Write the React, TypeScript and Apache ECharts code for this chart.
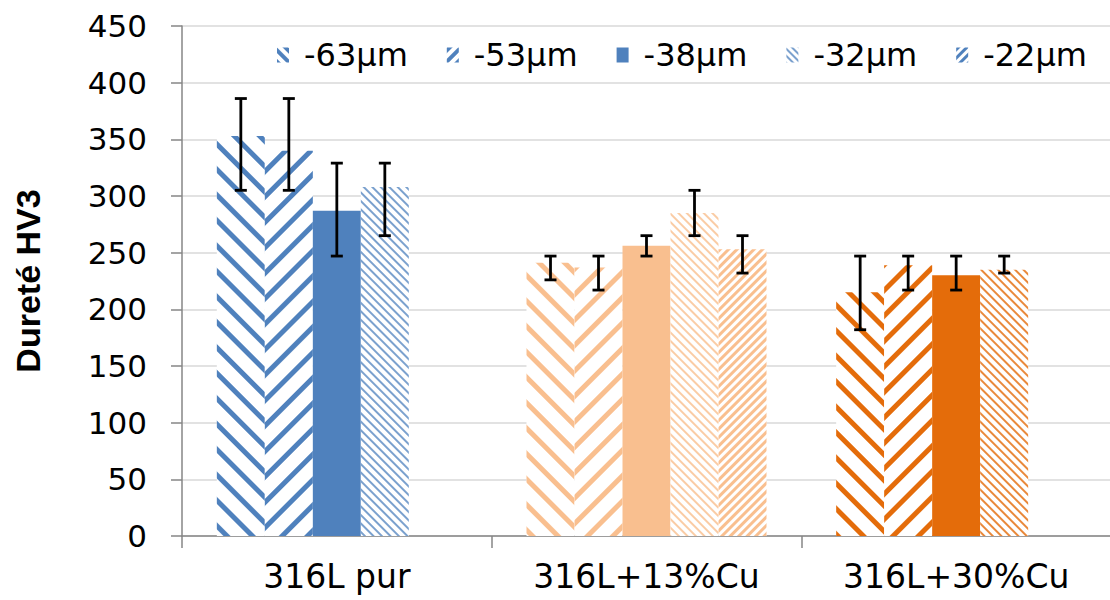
import React, { useEffect, useRef } from "react";
import * as echarts from "echarts";

const CATEGORIES = ["316L pur", "316L+13%Cu", "316L+30%Cu"];
const SERIES_NAMES = ["-63µm", "-53µm", "-38µm", "-32µm", "-22µm"];

const V63 = [353, 241, 215];
const V53 = [340, 237, 239];
const V38 = [287, 256, 230];
const V32 = [308, 285, 235];
const V22 = [null, 253, null];

const E63 = [[305, 386], [226, 247], [182, 247]];
const E53 = [[305, 386], [217, 247], [217, 247]];
const E38 = [[247, 329], [247, 265], [217, 247]];
const E32 = [[265, 329], [265, 305], [232, 247]];
const E22 = [null, [232, 265], null];

const Y_TICKS = [0, 50, 100, 150, 200, 250, 300, 350, 400, 450];

const GROUP_COLORS = ["#4F81BD", "#F9BF8F", "#E46C0A"];
const LIGHT_COLORS = ["rgba(79,129,189,0.75)", "rgba(249,191,143,0.8)", "rgba(228,108,10,0.8)"];

const VALUES = [V63, V53, V38, V32, V22];
const ERRORS = [E63, E53, E38, E32, E22];

const FONT = "'DejaVu Sans', 'Liberation Sans', Arial, sans-serif";
const TITLE_FONT = "'Liberation Sans', Arial, sans-serif";
const BAR_WIDTH = 48;

// pattern per series: null = solid
const PATTERNS: (null | { dash: number[]; rot: number; light?: boolean })[] = [
  { dash: [4.8, 12.2], rot: Math.PI / 4 },
  { dash: [4.8, 12.2], rot: -Math.PI / 4 },
  null,
  { dash: [2, 3.6], rot: Math.PI / 4, light: true },
  { dash: [3, 3], rot: -Math.PI / 4 },
];
// denser version of the patterns for the small legend keys
const LEGEND_PATTERNS: (null | { dash: number[]; rot: number; light?: boolean })[] = [
  { dash: [3.5, 4], rot: Math.PI / 4 },
  { dash: [3.5, 4], rot: -Math.PI / 4 },
  null,
  { dash: [2, 3], rot: Math.PI / 4, light: true },
  { dash: [2.5, 2.5], rot: -Math.PI / 4 },
];

function makeStyle(p: null | { dash: number[]; rot: number; light?: boolean }, gIdx: number) {
  const base = GROUP_COLORS[gIdx];
  if (!p) return { color: base };
  return {
    color: "#ffffff",
    decal: {
      symbol: "rect",
      symbolSize: 1,
      dashArrayX: [1, 0],
      dashArrayY: p.dash,
      rotation: p.rot,
      color: p.light ? LIGHT_COLORS[gIdx] : base,
    },
  };
}

export default function App() {
  const ref = useRef<HTMLDivElement>(null);
  useEffect(() => {
    if (!ref.current) return;
    const chart = echarts.init(ref.current, undefined, { renderer: "svg" });
    const n = SERIES_NAMES.length;

    const barSeries = SERIES_NAMES.map((name, sIdx) => ({
      name,
      type: "bar",
      barWidth: BAR_WIDTH,
      barGap: "0%",
      itemStyle: makeStyle(LEGEND_PATTERNS[sIdx], 0),
      data: VALUES[sIdx].map((v, gIdx) =>
        v == null ? "-" : { value: v, itemStyle: makeStyle(PATTERNS[sIdx], gIdx) }
      ),
    }));

    const errData: number[][] = [];
    ERRORS.forEach((arr, sIdx) => {
      arr.forEach((e, gIdx) => {
        if (e) errData.push([gIdx, sIdx, e[0], e[1]]);
      });
    });

    const errSeries = {
      type: "custom",
      z: 10,
      encode: { x: 0, y: [2, 3] },
      data: errData,
      renderItem: (params: any, api: any) => {
        const cat = api.value(0);
        const sIdx = api.value(1);
        const lo = api.coord([cat, api.value(2)]);
        const hi = api.coord([cat, api.value(3)]);
        const x = lo[0] + (sIdx - (n - 1) / 2) * BAR_WIDTH;
        const cap = 6;
        const st = { stroke: "#000", lineWidth: 2.8 };
        return {
          type: "group",
          children: [
            { type: "line", shape: { x1: x, y1: lo[1], x2: x, y2: hi[1] }, style: st },
            { type: "line", shape: { x1: x - cap, y1: lo[1], x2: x + cap, y2: lo[1] }, style: st },
            { type: "line", shape: { x1: x - cap, y1: hi[1], x2: x + cap, y2: hi[1] }, style: st },
          ],
        };
      },
    };

    chart.setOption({
      animation: false,
      backgroundColor: "#ffffff",
      textStyle: { fontFamily: FONT },
      grid: {
        left: 182,
        right: -1,
        top: 26,
        bottom: 64,
        containLabel: false,
        outerBoundsMode: "none",
      },
      legend: {
        data: SERIES_NAMES,
        left: 272,
        top: 34,
        icon: "rect",
        itemWidth: 12,
        itemHeight: 15,
        itemGap: 39,
        textStyle: { fontSize: 32, color: "#000", fontFamily: FONT, padding: [0, 0, 0, 10] },
      },
      xAxis: {
        type: "category",
        data: CATEGORIES,
        axisLine: { lineStyle: { color: "#868686", width: 1.5 } },
        axisTick: { show: true, length: 12, lineStyle: { color: "#868686", width: 1.5 } },
        axisLabel: { fontSize: 33, color: "#000", margin: 24, fontFamily: FONT },
      },
      yAxis: {
        type: "value",
        min: Y_TICKS[0],
        max: Y_TICKS[Y_TICKS.length - 1],
        interval: 50,
        name: "Dureté HV3",
        nameLocation: "middle",
        nameRotate: 90,
        nameGap: 137,
        nameTextStyle: { fontSize: 34, fontWeight: "bold", color: "#000", fontFamily: TITLE_FONT },
        axisLine: { show: true, lineStyle: { color: "#868686", width: 1.5 } },
        axisTick: { show: true, length: 11, lineStyle: { color: "#868686", width: 1.5 } },
        axisLabel: { fontSize: 31, color: "#000", margin: 35, fontFamily: FONT },
        splitLine: { lineStyle: { color: "#D9D9D9", width: 1.5 } },
      },
      series: [...barSeries, errSeries],
    } as any);
    return () => chart.dispose();
  }, []);
  return (
    <div
      ref={ref}
      style={{ position: "fixed", left: 0, top: 0, width: 1110, height: 600, background: "#fff" }}
    />
  );
}
